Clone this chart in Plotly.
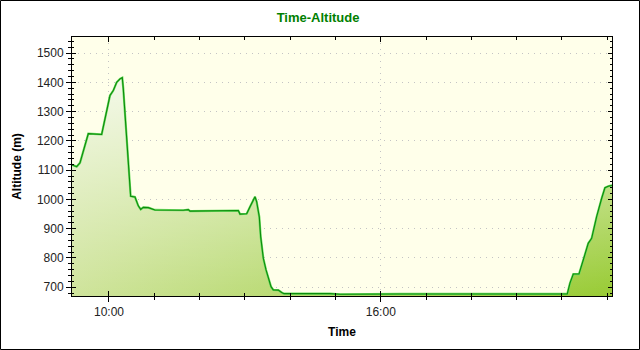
import plotly.graph_objects as go

day = "2010-07-15 "
times = ["09:11:00", "09:17:12", "09:21:36", "09:26:54", "09:32:36", "09:50:18", "09:53:24",
         "10:01:18", "10:05:42", "10:10:12", "10:14:36", "10:17:36", "10:18:54", "10:23:24",
         "10:25:36", "10:28:42", "10:34:24", "10:38:48", "10:42:00", "10:45:24", "10:52:06",
         "11:00:54", "11:38:24", "11:45:00", "11:47:18", "12:13:48", "12:51:18", "12:53:30",
         "13:02:24", "13:06:48", "13:10:42", "13:13:24", "13:15:36", "13:17:42", "13:19:06",
         "13:20:54", "13:23:00", "13:24:24", "13:28:00", "13:31:00", "13:34:36", "13:37:36",
         "13:44:12", "13:48:42", "13:51:48", "14:52:42", "15:06:00", "16:25:18", "17:45:00",
         "19:04:24", "20:07:00", "20:10:36", "20:15:00", "20:22:30", "20:28:12", "20:34:48",
         "20:39:18", "20:45:54", "20:52:36", "20:56:54", "21:01:18", "21:06:12"]
altitude = [1118, 1112, 1125, 1170, 1225, 1222, 1260,
            1355, 1372, 1400, 1412, 1416, 1380, 1200,
            1100, 1011, 1008, 978, 966, 973, 972,
            964, 963, 965, 960, 960, 962, 950,
            951, 975, 995, 1009, 992, 960, 940,
            873, 827, 799, 759, 736, 702, 691,
            690, 682, 678, 678, 676, 677, 676,
            677, 677, 714, 745, 745, 793, 850,
            867, 941, 1004, 1040, 1045, 1048]
y_ticks = [700, 800, 900, 1000, 1100, 1200, 1300, 1400, 1500]

x = [day + t for t in times]
x_range = [day + "09:11:00", day + "21:06:15"]
y_range = [670, 1555]

fig = go.Figure()
# base fill: horizontal gradient
fig.add_trace(go.Scatter(
    x=x, y=altitude, mode="lines", line=dict(width=0), fill="tozeroy",
    fillgradient=dict(type="horizontal",
                      colorscale=[[0, "#CFE49C"], [1, "#98CB34"]]),
    hoverinfo="skip", showlegend=False))
# overlay: white fading upward
fig.add_trace(go.Scatter(
    x=x, y=altitude, mode="lines", line=dict(width=0), fill="tozeroy",
    fillgradient=dict(type="vertical", start=670, stop=1420,
                      colorscale=[[0, "rgba(255,255,255,0)"], [1, "rgba(255,255,255,0.8)"]]),
    hoverinfo="skip", showlegend=False))
# line
fig.add_trace(go.Scatter(
    x=x, y=altitude, mode="lines", line=dict(color="#6BDB5E", width=2.2),
    hoverinfo="skip", showlegend=False))
fig.add_trace(go.Scatter(
    x=x, y=altitude, mode="lines", line=dict(color="#0C8C0C", width=1.1),
    showlegend=False))
# dummy trace for secondary (inside-tick) axes
fig.add_trace(go.Scatter(
    x=x, y=altitude, mode="lines", line=dict(width=0), xaxis="x2", yaxis="y2",
    hoverinfo="skip", showlegend=False))

tick_font = dict(family="Liberation Sans, Arial, sans-serif", size=12, color="#222222")
title_font = dict(family="Liberation Sans, Arial, sans-serif", size=12, color="#000000")
grid_dash = "1px,5px"

fig.update_layout(
    width=640, height=350,
    margin=dict(l=72, r=28, t=37, b=54),
    paper_bgcolor="white",
    plot_bgcolor="#FFFFEA",
    title=dict(text="<b>Time-Altitude</b>", x=0.497, xanchor="center",
               y=1 - 17 / 350, yanchor="middle", yref="container",
               font=dict(family="Liberation Sans, Arial, sans-serif", size=13, color="#008000")),
    xaxis=dict(
        type="date", range=x_range, tickformat="%H:%M",
        tick0=day + "10:00", dtick=6 * 3600 * 1000,
        ticks="outside", ticklen=5, tickcolor="black", tickwidth=1,
        minor=dict(dtick=3600 * 1000, tick0=day + "10:00", ticks="outside", ticklen=3,
                   tickcolor="black", showgrid=False),
        showgrid=True, gridcolor="#C4C4C4", griddash=grid_dash, gridwidth=1,
        showline=True, linecolor="black", linewidth=1, mirror=True,
        zeroline=False, tickfont=tick_font,
        title=dict(text="<b>Time</b>", font=title_font, standoff=9),
    ),
    yaxis=dict(
        range=y_range, tickvals=y_ticks,
        ticks="outside", ticklen=5, tickcolor="black", tickwidth=1,
        minor=dict(dtick=20, tick0=0, ticks="outside", ticklen=3, tickcolor="black", showgrid=False),
        showgrid=True, gridcolor="#C4C4C4", griddash=grid_dash, gridwidth=1,
        showline=True, linecolor="black", linewidth=1, mirror=True,
        zeroline=False, tickfont=tick_font,
        title=dict(text="<b>Altitude (m)</b>", font=title_font, standoff=12),
    ),
    xaxis2=dict(
        type="date", range=x_range, overlaying="x", side="bottom",
        tick0=day + "10:00", dtick=6 * 3600 * 1000,
        ticks="inside", ticklen=5, tickcolor="black", mirror="allticks",
        minor=dict(dtick=3600 * 1000, tick0=day + "10:00", ticks="inside", ticklen=3,
                   tickcolor="black", showgrid=False),
        showticklabels=False, showgrid=False, zeroline=False, showline=False,
    ),
    yaxis2=dict(
        range=y_range, overlaying="y", side="left", tickvals=y_ticks,
        ticks="inside", ticklen=4, tickcolor="black", mirror="allticks",
        minor=dict(dtick=20, tick0=0, ticks="inside", ticklen=2, tickcolor="black", showgrid=False),
        showticklabels=False, showgrid=False, zeroline=False, showline=False,
    ),
    shapes=[dict(type="rect", xref="paper", yref="paper",
                 x0=(0.5 - 72) / 540, x1=(639.5 - 72) / 540,
                 y0=(296 - 349.5) / 259, y1=(296 - 0.5) / 259,
                 line=dict(color="black", width=1), layer="above")],
)

fig.write_html("out.html")
